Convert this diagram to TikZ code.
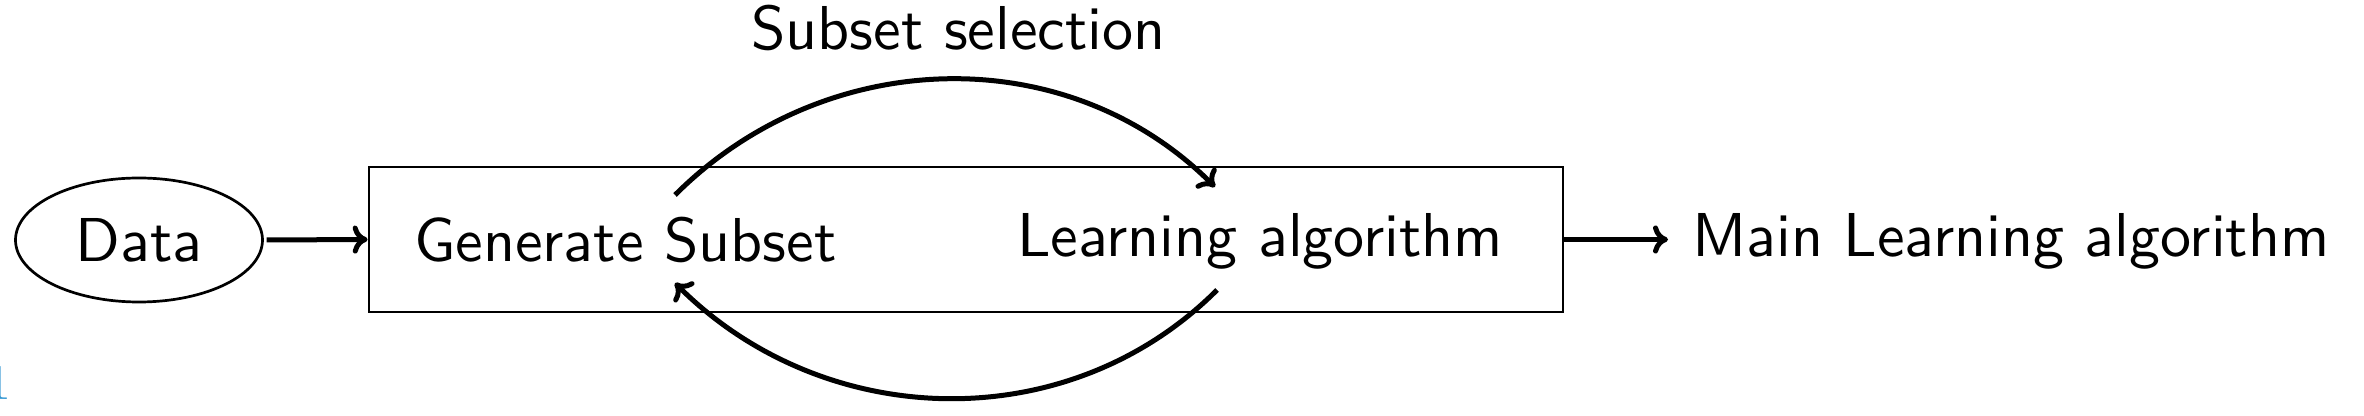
\documentclass[tikz,border=0pt]{standalone}
\usetikzlibrary{arrows.meta,shapes.geometric,calc}
\definecolor{linkblue}{RGB}{50,150,210}
\begin{document}
\begin{tikzpicture}[x=0.5pt,y=-0.5pt,
  txt/.style={font=\sffamily, scale=3.1, inner sep=0pt, anchor=base west},
  thinline/.style={line width=1.35pt},
  conn/.style={line width=2.5pt, -{Computer Modern Rightarrow[length=7.5pt,width=14pt]}}]
\useasboundingbox (0,0) rectangle (2364,416);
% nodes
\node[draw, thinline, ellipse, font=\sffamily, scale=3.1,
      minimum width={123.5pt/3.1}, minimum height={62pt/3.1}, inner sep=0pt]
      (data) at (139,240) {Data};
\node[draw, thinline, rectangle, minimum width=597pt, minimum height=72.5pt, inner sep=0pt]
      (box) at (966,239.5) {};
\node[txt] (gen) at (413,262) {Generate Subset};
\node[txt] (learn) at (1016,257) {Learning algorithm};
\node[txt] (main) at (1691,257) {Main Learning algorithm};
\node[txt] (sel) at (750,50) {Subset selection};
\node[font=\rmfamily, text=linkblue, scale=2.48, inner sep=0pt, anchor=base west]
      (pg) at (-14,400) {1};
% arc end points
\coordinate (a1) at (675,195);
\coordinate (a2) at (1215,187);
\coordinate (b1) at (1217,290);
\coordinate (b2) at (675,283);
% connectors
\draw[conn] (data.east) -- (box.west);
\draw[conn] (box.east) -- ($(main.west |- box.east)+(-23,0)$);
\draw[conn] (a1) .. controls +(149,-149) and +(-149,-149) .. (a2);
\draw[conn] (b1) .. controls +(-149,149) and +(149,149) .. (b2);
\end{tikzpicture}
\end{document}
